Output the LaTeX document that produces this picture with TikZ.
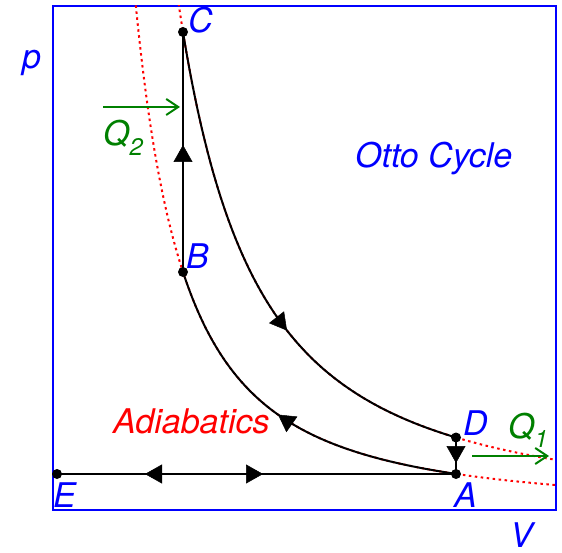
\documentclass[tikz,border=0pt]{standalone}
\usepackage{fontspec}
\setmainfont{TeX Gyre Heros}
\usetikzlibrary{arrows.meta}
\definecolor{qgreen}{RGB}{0,128,0}
\begin{document}
\begin{tikzpicture}[x=1pt,y=-1pt,
  lab/.style={anchor=base west, inner sep=0pt, font=\fontsize{34}{38}\selectfont\itshape},
  curve/.style={line width=2pt, black},
  adiab/.style={red, line width=2pt, dash pattern=on 2.5pt off 3.5pt},
  head/.style={-{Triangle[length=17pt,width=19pt]}, line width=0.5pt, black},
  dotmark/.style={fill=black},
  heat/.style={qgreen, line width=2pt, -{Straight Barb[length=12pt,width=16pt]}},
  frame/.style={blue, line width=2pt},
]
\useasboundingbox (0,0) rectangle (562,553);
% frame
\draw[frame] (52.5,6) rectangle (555.5,510);
% points
\coordinate (C) at (183,32);
\coordinate (B) at (183,272);
\coordinate (D) at (456,437.5);
\coordinate (A) at (456,474);
\coordinate (E) at (57,474);
% adiabats (red dotted)
\begin{scope}
\clip (53,6) rectangle (555,510);
\draw[adiab] plot[domain=176:556, samples=300, smooth] (\x, {510-478*(130/(\x-53))^(5/3)});
\draw[adiab] plot[domain=133:556, samples=300, smooth] (\x, {510-238*(130/(\x-53))^(5/3)});
\end{scope}
% cycle
\draw[curve] plot[domain=183:456, samples=150, smooth] (\x, {510-478*(130/(\x-53))^(5/3)});
\draw[curve] plot[domain=183:456, samples=150, smooth] (\x, {510-238*(130/(\x-53))^(5/3)});
\draw[curve] (B) -- (C);
\draw[curve] (D) -- (A);
\draw[curve] (E) -- (A);
% arrowheads
\draw[head] (183,163) -- (183,145);
\draw[head] (456,445) -- (456,463);
\draw[head] (164,474) -- (145,474);
\draw[head] (244,474) -- (263,474);
\draw[head] (276.5,317.2) -- (287,330.6);
\draw[head] (291.9,424.4) -- (278,414.6);
% dots
\foreach \p in {A,B,C,D,E} \fill[dotmark] (\p) circle (5pt);
% heat arrows
\coordinate (q2s) at (103,107);
\coordinate (q2e) at (180,107);
\coordinate (q1s) at (472,456);
\coordinate (q1e) at (549,456);
\draw[heat] (q2s) -- (q2e);
\draw[heat] (q1s) -- (q1e);
% labels
\node[lab, text=blue] (lp) at (22,69) {p};
\node[lab, text=blue] (lC) at (188,33) {C};
\node[lab, text=blue] (lB) at (186,269) {B};
\node[lab, text=blue] (lD) at (463,435) {D};
\node[lab, text=blue] (lA) at (454,507) {A};
\node[lab, text=blue] (lE) at (53,507) {E};
\node[lab, text=blue] (lV) at (510,547) {V};
\node[lab, text=blue] (lotto) at (355,168) {Otto Cycle};
\node[lab, text=red] (ladia) at (113,433) {Adiabatics};
\node[lab, text=qgreen] (lq2) at (103,146) {Q\raisebox{-10pt}{\fontsize{24}{24}\selectfont 2}};
\node[lab, text=qgreen] (lq1) at (508,438) {Q\raisebox{-9pt}{\fontsize{24}{24}\selectfont 1}};
\end{tikzpicture}
\end{document}
